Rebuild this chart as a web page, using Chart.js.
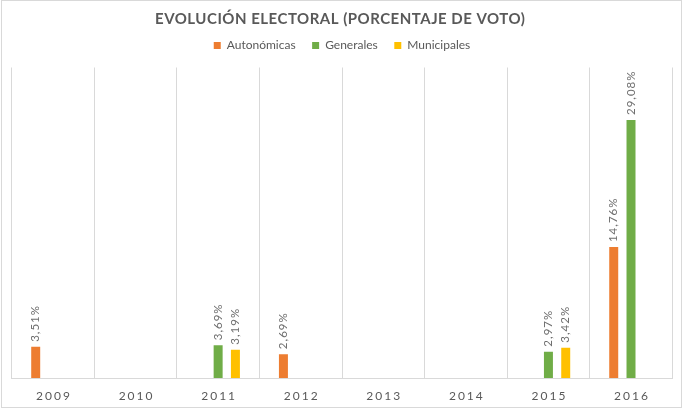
<!DOCTYPE html>
<html>
<head>
<meta charset="utf-8">
<script src="https://cdn.jsdelivr.net/npm/chart.js@4"></script>
<style>
  html, body { margin: 0; padding: 0; background: #fff; }
  #wrap { position: relative; width: 684px; height: 410px; }
</style>
</head>
<body>
<div id="wrap"><canvas id="chart" width="684" height="410"></canvas></div>
<script>
const titleText = 'EVOLUCIÓN ELECTORAL (PORCENTAJE DE VOTO)';
const categories = ['2009', '2010', '2011', '2012', '2013', '2014', '2015', '2016'];
const seriesNames = ['Autonómicas', 'Generales', 'Municipales'];
const autonomicas = [3.51, null, null, 2.69, null, null, null, 14.76];
const generales   = [null, null, 3.69, null, null, null, 2.97, 29.08];
const municipales = [null, null, 3.19, null, null, null, 3.42, null];
const yMax = 35;

const colors = ['#ED7D31', '#70AD47', '#FFC000'];
const textGray = '#595959';
const gridGray = '#d9d9d9';

function pct(v) {
  return v.toFixed(2).replace('.', ',') + '%';
}

// frame, title, letter-spaced year labels and rotated value labels
const decor = {
  id: 'decor',
  beforeInit(chart) {
    // a bit more room between legend and plot
    const fit = chart.legend.fit;
    chart.legend.fit = function () {
      fit.call(this);
      this.height += 6;
    };
  },
  beforeDraw(chart) {
    const ctx = chart.ctx;
    ctx.save();
    ctx.fillStyle = '#fff';
    ctx.fillRect(0, 0, chart.width, chart.height);
    ctx.strokeStyle = gridGray;
    ctx.lineWidth = 1;
    ctx.strokeRect(1.5, 0.5, 680, 407);
    ctx.restore();
  },
  afterDatasetsDraw(chart) {
    const ctx = chart.ctx;
    ctx.save();
    ctx.fillStyle = '#6e6e6e';
    ctx.font = '11.5px Lato';
    ctx.letterSpacing = '1px';
    ctx.textAlign = 'left';
    ctx.textBaseline = 'middle';
    chart.data.datasets.forEach((ds, di) => {
      const meta = chart.getDatasetMeta(di);
      meta.data.forEach((bar, i) => {
        const v = ds.data[i];
        if (v === null || v === undefined) return;
        ctx.save();
        ctx.translate(bar.x, bar.y - 5);
        ctx.rotate(-Math.PI / 2);
        ctx.fillText(pct(v), 0, 0);
        ctx.restore();
      });
    });
    ctx.restore();
  },
  afterDraw(chart) {
    const ctx = chart.ctx;
    const x = chart.scales.x;
    ctx.save();
    ctx.fillStyle = textGray;
    ctx.textAlign = 'center';
    ctx.textBaseline = 'middle';

    ctx.font = 'bold 15px Lato';
    ctx.letterSpacing = '0.5px';
    ctx.fillText(titleText, 340 + 0.25, 19);

    ctx.font = '12px Lato';
    ctx.letterSpacing = '2px';
    categories.forEach((c, i) => {
      ctx.fillText(c, x.getPixelForValue(i) + 1, 396);
    });
    ctx.restore();
  }
};

new Chart(document.getElementById('chart').getContext('2d'), {
  type: 'bar',
  data: {
    labels: categories,
    datasets: [
      { label: seriesNames[0], data: autonomicas, backgroundColor: colors[0] },
      { label: seriesNames[1], data: generales, backgroundColor: colors[1] },
      { label: seriesNames[2], data: municipales, backgroundColor: colors[2] }
    ]
  },
  options: {
    responsive: false,
    animation: false,
    devicePixelRatio: 1,
    categoryPercentage: 0.628,
    barPercentage: 0.52,
    layout: { padding: { top: 23, left: 11.7, right: 11.7, bottom: 32 } },
    plugins: {
      title: { display: false },
      tooltip: { enabled: false },
      legend: {
        position: 'top',
        labels: {
          boxWidth: 7,
          boxHeight: 7,
          padding: 16.5,
          color: textGray,
          font: { family: 'Lato', size: 12 }
        }
      }
    },
    scales: {
      x: {
        offset: true,
        grid: { display: true, offset: true, color: gridGray, drawTicks: false },
        border: { display: true, color: gridGray },
        ticks: { display: false }
      },
      y: {
        display: false,
        min: 0,
        max: yMax
      }
    }
  },
  plugins: [decor]
});
</script>
</body>
</html>
